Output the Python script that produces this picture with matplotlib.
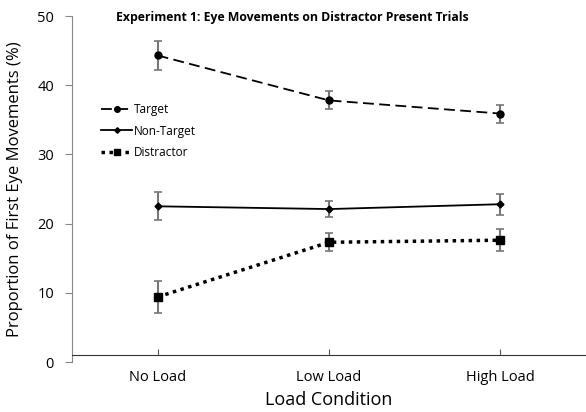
import matplotlib.pyplot as plt
from matplotlib.lines import Line2D
import numpy as np

plt.rcParams['font.family'] = ['Open Sans', 'DejaVu Sans']

conditions = ['No Load', 'Low Load', 'High Load']
target = [44.3, 37.8, 35.9]
target_err = [2.1, 1.3, 1.3]
nontarget = [22.5, 22.1, 22.8]
nontarget_err = [2.0, 1.1, 1.5]
distractor = [9.4, 17.3, 17.6]
distractor_err = [2.3, 1.3, 1.6]

fig = plt.figure(figsize=(5.86, 4.12), dpi=100)
ax = fig.add_axes([72/586, 1-362/412, 1-72/586, (362-16)/412])
x = np.arange(len(conditions))

styles = [
    ('Target', target, target_err, dict(lw=1.3, ls=(0, (6, 3)), marker='o', ms=5)),
    ('Non-Target', nontarget, nontarget_err, dict(lw=1.3, ls='-', marker='D', ms=3.5)),
    ('Distractor', distractor, distractor_err, dict(lw=2.5, ls=(0, (1, 1.3)), marker='s', ms=5.5)),
]
handles = []
for name, vals, err, st in styles:
    ax.errorbar(x, vals, yerr=err, color='black', ecolor='#777777', elinewidth=1.5,
                capsize=3, capthick=1.2, **st)
    legst = dict(st)
    legst['ms'] = st['ms'] * 0.8
    handles.append(Line2D([], [], color='black', **legst))

ax.set_xlim(-0.5, 2.5)
ax.set_ylim(0, 50)
ax.set_yticks([0, 10, 20, 30, 40, 50])
ax.set_xticks(x)
ax.set_xticklabels(conditions)
ax.spines['top'].set_visible(False)
ax.spines['right'].set_visible(False)
ax.spines['left'].set_color('#888888')
ax.spines['bottom'].set_position(('data', 1.0))
ax.spines['bottom'].set_color('#333333')
ax.tick_params(axis='y', direction='out', length=5, color='#888888', labelsize=10.5, pad=8)
ax.tick_params(axis='x', direction='in', length=4, color='#555555', labelsize=10.5, pad=11)

ax.set_xlabel('Load Condition', fontsize=13, labelpad=4)
ax.set_ylabel('Proportion of First Eye Movements (%)', fontsize=12, labelpad=10)
fig.text(292/586, 1-17/412, 'Experiment 1: Eye Movements on Distractor Present Trials',
         fontsize=8.8, fontweight='bold', ha='center', va='center')

ax.legend(handles, [s[0] for s in styles], loc='upper left', bbox_to_anchor=(0.035, 0.78),
          frameon=False, fontsize=8.5, handlelength=2.7, labelspacing=0.75, handletextpad=0.15)

fig.savefig('out.png', dpi=100)
